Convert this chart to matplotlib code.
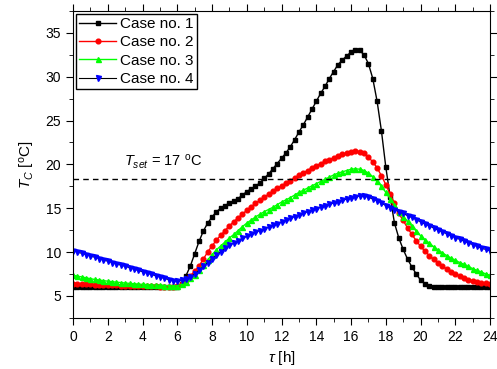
import numpy as np
import matplotlib
matplotlib.use("Agg")
import matplotlib.pyplot as plt
from matplotlib.ticker import MultipleLocator

plt.rcParams['font.family'] = ['Liberation Sans', 'DejaVu Sans']
plt.rcParams['mathtext.fontset'] = 'custom'
plt.rcParams['mathtext.rm'] = 'Liberation Sans'
plt.rcParams['mathtext.it'] = 'Liberation Sans:italic'
plt.rcParams['mathtext.bf'] = 'Liberation Sans:bold'

# time axis, one value every quarter hour
tau = np.arange(0, 24.01, 0.25)

# case no. 1
case1 = [6.0, 6.0, 6.0, 6.0,
         6.0, 6.0, 6.0, 6.0,
         6.0, 6.0, 6.0, 6.0,
         6.0, 6.0, 6.0, 6.0,
         6.0, 6.0, 6.0, 6.0,
         6.0, 5.95, 5.95, 5.95,
         6.05, 6.4, 7.3, 8.4,
         9.8, 11.2, 12.4, 13.3,
         14.0, 14.6, 15.0, 15.3,
         15.6, 15.85, 16.1, 16.5,
         16.9, 17.2, 17.5, 17.9,
         18.4, 18.9, 19.5, 20.1,
         20.7, 21.3, 22.0, 22.8,
         23.7, 24.5, 25.4, 26.3,
         27.2, 28.1, 28.9, 29.8,
         30.6, 31.4, 31.9, 32.4,
         32.8, 33.0, 33.0, 32.5,
         31.5, 29.8, 27.2, 23.8,
         19.7, 16.3, 13.3, 11.6,
         10.3, 9.2, 8.3, 7.5,
         6.8, 6.4, 6.15, 6.05,
         6.0, 6.0, 6.0, 6.0,
         6.0, 6.0, 6.0, 6.0,
         6.0, 6.0, 6.0, 6.0,
         6.0]

# case no. 2
case2 = [6.4, 6.38, 6.35, 6.33,
         6.3, 6.28, 6.26, 6.24,
         6.22, 6.2, 6.18, 6.17,
         6.15, 6.14, 6.12, 6.11,
         6.1, 6.09, 6.08, 6.07,
         6.05, 6.03, 6.0, 6.0,
         6.1, 6.35, 6.8, 7.3,
         7.8, 8.4, 9.2, 10.0,
         10.7, 11.35, 11.9, 12.45,
         13.0, 13.45, 13.9, 14.35,
         14.75, 15.15, 15.55, 15.9,
         16.25, 16.6, 16.95, 17.25,
         17.55, 17.85, 18.15, 18.45,
         18.75, 19.05, 19.3, 19.6,
         19.85, 20.1, 20.35, 20.55,
         20.75, 20.95, 21.15, 21.3,
         21.4, 21.5, 21.45, 21.3,
         20.8, 20.3, 19.6, 18.7,
         17.7, 16.6, 15.6, 14.4,
         13.6, 12.75, 12.0, 11.3,
         10.65, 10.1, 9.6, 9.15,
         8.75, 8.4, 8.05, 7.75,
         7.5, 7.25, 7.05, 6.85,
         6.7, 6.58, 6.48, 6.42,
         6.38]

# case no. 3
case3 = [7.35, 7.25, 7.15, 7.05,
         6.95, 6.87, 6.8, 6.73,
         6.67, 6.61, 6.56, 6.51,
         6.46, 6.42, 6.38, 6.34,
         6.31, 6.28, 6.25, 6.22,
         6.2, 6.17, 6.15, 6.13,
         6.15, 6.3, 6.6, 7.0,
         7.4, 7.9, 8.5, 9.1,
         9.7, 10.25, 10.7, 11.15,
         11.6, 12.0, 12.45, 12.9,
         13.3, 13.65, 14.0, 14.3,
         14.6, 14.85, 15.1, 15.4,
         15.7, 15.95, 16.2, 16.5,
         16.8, 17.05, 17.3, 17.55,
         17.8, 18.05, 18.3, 18.55,
         18.8, 19.0, 19.15, 19.3,
         19.45, 19.5, 19.45, 19.3,
         19.0, 18.6, 18.1, 17.5,
         16.8, 16.1, 15.35, 14.6,
         14.0, 13.5, 12.95, 12.4,
         11.85, 11.4, 11.0, 10.6,
         10.25, 9.9, 9.6, 9.3,
         9.05, 8.8, 8.6, 8.35,
         8.1, 7.9, 7.7, 7.5,
         7.35]

# case no. 4
case4 = [10.15, 10.0, 9.85, 9.7,
         9.55, 9.4, 9.25, 9.1,
         8.95, 8.8, 8.65, 8.5,
         8.38, 8.22, 8.06, 7.9,
         7.75, 7.6, 7.45, 7.3,
         7.15, 7.0, 6.85, 6.7,
         6.65, 6.75, 6.95, 7.2,
         7.5, 7.9, 8.35, 8.8,
         9.25, 9.65, 10.05, 10.4,
         10.75, 11.05, 11.3, 11.55,
         11.8, 12.0, 12.25, 12.45,
         12.65, 12.85, 13.05, 13.25,
         13.45, 13.65, 13.85, 14.05,
         14.25, 14.45, 14.6, 14.8,
         14.95, 15.15, 15.3, 15.45,
         15.6, 15.75, 15.9, 16.05,
         16.2, 16.3, 16.4, 16.4,
         16.25, 16.05, 15.85, 15.6,
         15.3, 15.05, 14.85, 14.6,
         14.4, 14.15, 13.95, 13.7,
         13.45, 13.2, 13.0, 12.75,
         12.5, 12.3, 12.1, 11.85,
         11.65, 11.45, 11.25, 11.05,
         10.85, 10.65, 10.45, 10.3,
         10.15]

t_set_line = 18.35
labels = ["Case no. 1", "Case no. 2", "Case no. 3", "Case no. 4"]

fig = plt.figure(figsize=(4.97, 3.69), dpi=100)
ax = fig.add_axes([0.147, 0.139, 0.839, 0.831])

ax.plot(tau, case1, color="black", marker="s", ms=3.2, lw=1.0, label=labels[0])
ax.plot(tau, case2, color="red", marker="o", ms=3.4, lw=1.0, label=labels[1])
ax.plot(tau, case3, color="#00ff00", marker="^", ms=3.6, lw=1.0, label=labels[2])
ax.plot(tau, case4, color="black", marker="v", mfc="blue", mec="blue", ms=3.6, lw=0.8, label=labels[3])

ax.axhline(t_set_line, color="black", ls=(0, (4, 3)), lw=1.0)
ax.text(5.2, 19.3, r"$T_{set}$ = 17 $^{\rm o}$C", ha="center", va="bottom", fontsize=10.5)

ax.set_xlim(0, 24)
ax.set_ylim(2.5, 37.5)
ax.xaxis.set_major_locator(MultipleLocator(2))
ax.xaxis.set_minor_locator(MultipleLocator(1))
ax.yaxis.set_major_locator(MultipleLocator(5))
ax.yaxis.set_minor_locator(MultipleLocator(2.5))
ax.tick_params(which="both", direction="out", top=True, right=True, labelsize=10)
ax.tick_params(which="major", length=5)
ax.tick_params(which="minor", length=3)

ax.set_xlabel(r"$\tau$ [h]", fontsize=11, labelpad=4)
ax.set_ylabel(r"$T_C$ [$^{\rm o}$C]", fontsize=11, labelpad=6)

leg = ax.legend(loc="upper left", fancybox=False, edgecolor="black", framealpha=1,
                fontsize=11, borderaxespad=0.2, handlelength=2.4, handletextpad=0.3,
                labelspacing=0.28, borderpad=0.2)
leg.get_frame().set_linewidth(1.0)

fig.savefig("out.png", dpi=100)
